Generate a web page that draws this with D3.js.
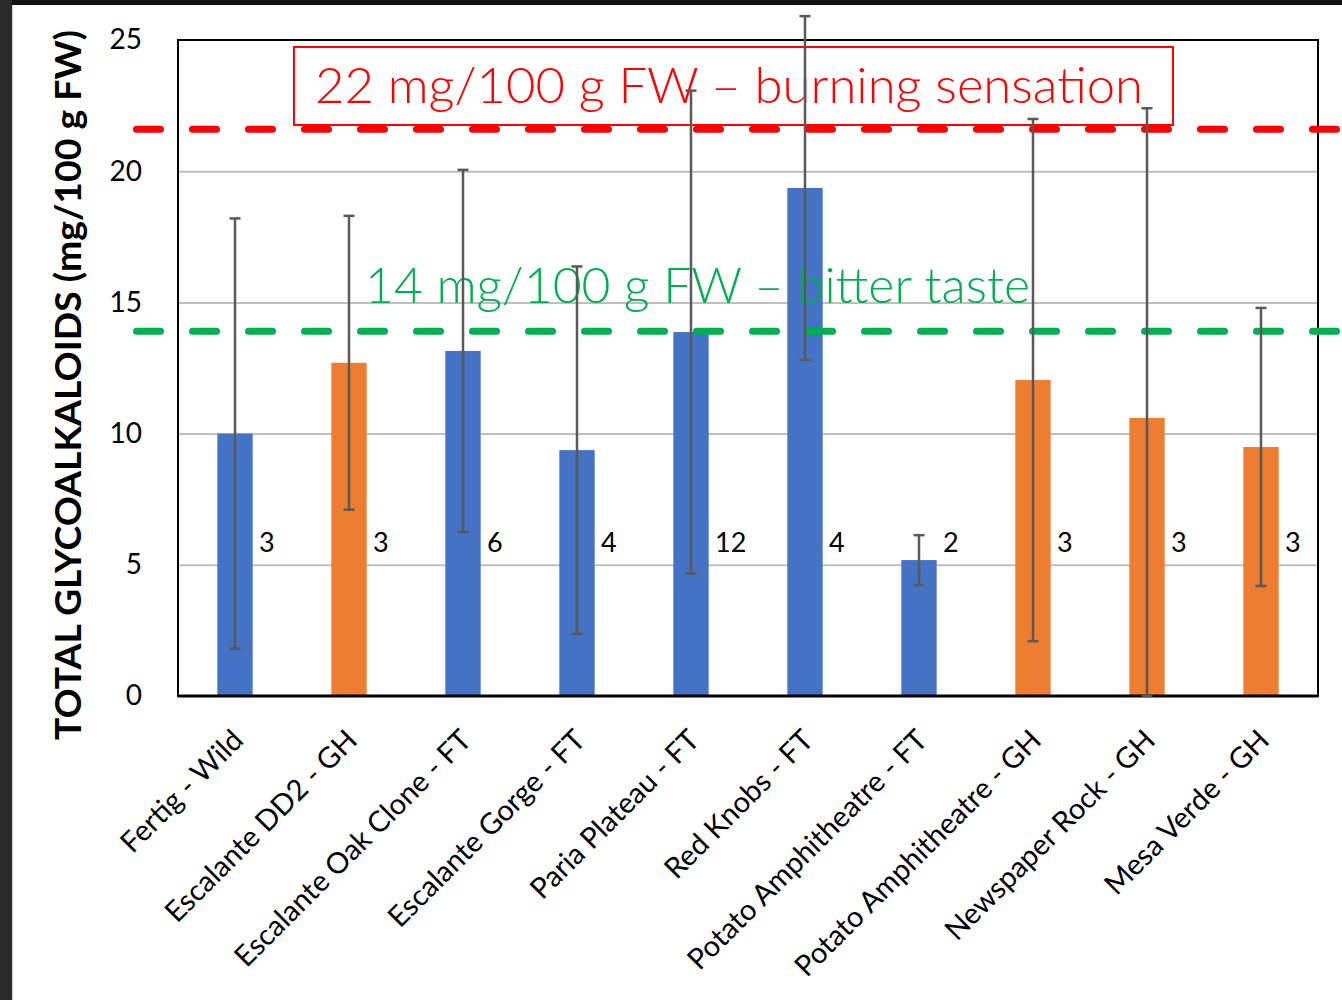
<!DOCTYPE html>
<html>
<head>
<meta charset="utf-8">
<script src="https://cdn.jsdelivr.net/npm/d3@7"></script>
<style>
  body { margin: 0; background: #fff; }
  svg { display: block; }
</style>
</head>
<body>
<svg id="chart"></svg>
<script>
// data
const categories = [
  "Fertig - Wild", "Escalante DD2 - GH", "Escalante Oak Clone - FT", "Escalante Gorge - FT",
  "Paria Plateau - FT", "Red Knobs - FT", "Potato Amphitheatre - FT", "Potato Amphitheatre - GH",
  "Newspaper Rock - GH", "Mesa Verde - GH"
];
const glycoalkaloids = [10.0, 12.7, 13.15, 9.37, 13.87, 19.36, 5.18, 12.04, 10.6, 9.49];
const stdDev = [8.2, 5.6, 6.9, 7.0, 9.2, 6.55, 0.95, 9.95, 11.8, 5.3];
const sampleSize = [3, 3, 6, 4, 12, 4, 2, 3, 3, 3];
const yTicks = [0, 5, 10, 15, 20, 25];
const thresholdValues = [21.6, 13.9];
const thresholdLabels = ["22 mg/100 g FW \u2013 burning sensation", "14 mg/100 g FW \u2013 bitter taste"];

const width = 1342, height = 1000;
const plot = { left: 178, right: 1318, top: 40, bottom: 696 };
const blue = "#4472C4", orange = "#ED7D31";
const lineColors = ["#FF0000", "#00B050"];
const font = "Lato, 'Open Sans', sans-serif";

const svg = d3.select("#chart").attr("width", width).attr("height", height);

// page background / slide edges
svg.append("rect").attr("width", width).attr("height", height).attr("fill", "#fff");
svg.append("rect").attr("width", width).attr("height", 5).attr("fill", "#111");
svg.append("rect").attr("width", 12).attr("height", height).attr("fill", "#2a2a2a");
svg.append("rect").attr("x", 12).attr("y", 5).attr("width", 1).attr("height", height).attr("fill", "#d0d0d0");

const x = d3.scaleBand()
  .domain(categories)
  .range([plot.left, plot.right])
  .paddingInner(0.69)
  .paddingOuter(0.345);

const y = d3.scaleLinear().domain([0, 25]).range([plot.bottom, plot.top]);

// gridlines
svg.append("g")
  .attr("transform", `translate(${plot.left},0)`)
  .call(d3.axisLeft(y).tickValues(yTicks.slice(1, -1)).tickSize(-(plot.right - plot.left)).tickFormat(""))
  .call(g => g.select(".domain").remove())
  .call(g => g.selectAll("line").attr("stroke", "#bfbfbf").attr("stroke-width", 2));

// y tick labels
svg.append("g")
  .attr("transform", `translate(${plot.left},0)`)
  .call(d3.axisLeft(y).tickValues(yTicks).tickSize(0).tickPadding(36))
  .call(g => g.select(".domain").remove())
  .call(g => g.selectAll("text")
    .attr("font-family", font).attr("font-size", 28).attr("fill", "#000"));

// bars
svg.append("g")
  .selectAll("rect")
  .data(categories)
  .enter()
  .append("rect")
  .attr("x", d => x(d))
  .attr("y", (d, i) => y(glycoalkaloids[i]))
  .attr("width", x.bandwidth())
  .attr("height", (d, i) => y(0) - y(glycoalkaloids[i]))
  .attr("fill", d => d.endsWith("GH") ? orange : blue);

// plot frame
svg.append("rect")
  .attr("x", plot.left).attr("y", plot.top)
  .attr("width", plot.right - plot.left).attr("height", plot.bottom - plot.top)
  .attr("fill", "none").attr("stroke", "#000").attr("stroke-width", 2);
svg.append("line")
  .attr("x1", plot.left).attr("x2", plot.right)
  .attr("y1", plot.bottom).attr("y2", plot.bottom)
  .attr("stroke", "#000").attr("stroke-width", 3);

// x labels
svg.append("g")
  .attr("transform", `translate(0,${plot.bottom})`)
  .call(d3.axisBottom(x).tickSize(0))
  .call(g => g.select(".domain").remove())
  .call(g => g.selectAll("text")
    .attr("x", 0).attr("y", 0).attr("dy", 0)
    .attr("text-anchor", "end")
    .attr("transform", "translate(10,46) rotate(-45)")
    .attr("font-family", font).attr("font-size", 29).attr("fill", "#000"));

// threshold lines
svg.append("g")
  .selectAll("line")
  .data(thresholdValues)
  .enter()
  .append("line")
  .attr("x1", 136.5).attr("x2", width)
  .attr("y1", d => y(d)).attr("y2", d => y(d))
  .attr("stroke", (d, i) => lineColors[i])
  .attr("stroke-width", 7)
  .attr("stroke-linecap", "round")
  .attr("stroke-dasharray", "24 32");

// annotation box + texts
svg.append("rect")
  .attr("x", 294).attr("y", 47).attr("width", 879).attr("height", 78)
  .attr("fill", "none").attr("stroke", lineColors[0]).attr("stroke-width", 2);

svg.append("text")
  .attr("x", 315).attr("y", 103)
  .attr("textLength", 828).attr("lengthAdjust", "spacingAndGlyphs")
  .attr("font-family", font).attr("font-weight", 300).attr("font-size", 50)
  .attr("fill", lineColors[0])
  .text(thresholdLabels[0]);

svg.append("text")
  .attr("x", 365).attr("y", 303)
  .attr("textLength", 665).attr("lengthAdjust", "spacingAndGlyphs")
  .attr("font-family", font).attr("font-weight", 300).attr("font-size", 50)
  .attr("fill", lineColors[1])
  .text(thresholdLabels[1]);

// error bars
const errG = svg.append("g").attr("stroke", "#595959").attr("stroke-width", 2.5);
categories.forEach((c, i) => {
  const cx = x(c) + x.bandwidth() / 2;
  const hi = y(glycoalkaloids[i] + stdDev[i]);
  const lo = y(Math.max(0, glycoalkaloids[i] - stdDev[i]));
  errG.append("line").attr("x1", cx).attr("x2", cx).attr("y1", hi).attr("y2", lo);
  errG.append("line").attr("x1", cx - 5.5).attr("x2", cx + 5.5).attr("y1", hi).attr("y2", hi);
  errG.append("line").attr("x1", cx - 5.5).attr("x2", cx + 5.5).attr("y1", lo).attr("y2", lo);
});

// sample size labels
svg.append("g")
  .selectAll("text")
  .data(sampleSize)
  .enter()
  .append("text")
  .attr("x", (d, i) => x(categories[i]) + x.bandwidth() / 2 + 24)
  .attr("y", 552)
  .attr("font-family", font).attr("font-size", 27).attr("fill", "#000")
  .text(d => d);

// y axis title
svg.append("text")
  .attr("transform", "translate(81,385) rotate(-90)")
  .attr("text-anchor", "middle")
  .attr("textLength", 710).attr("lengthAdjust", "spacingAndGlyphs")
  .attr("font-family", font).attr("font-weight", 700).attr("font-size", 37)
  .attr("fill", "#000")
  .text("TOTAL GLYCOALKALOIDS  (mg/100 g FW)");
</script>
</body>
</html>
